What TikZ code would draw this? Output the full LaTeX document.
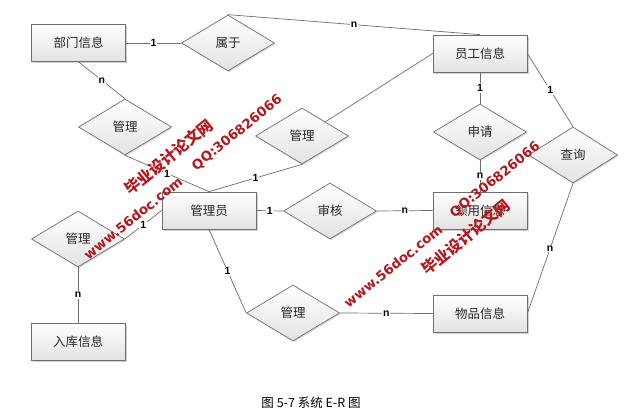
\documentclass[tikz,border=0pt]{standalone}
\usepackage{fontspec}
\setmainfont{Liberation Sans}
\newfontfamily\cjk{Noto Sans CJK SC}
\newfontfamily\wmlat{DejaVu Sans}
\usetikzlibrary{shapes.geometric,shadows}
\definecolor{wmred}{RGB}{178,24,30}
\definecolor{edgegray}{RGB}{110,110,110}
\definecolor{txt}{RGB}{40,40,40}
\begin{document}
\begin{tikzpicture}[x=1pt,y=-1pt,
  entity/.style={rectangle, draw=edgegray, line width=0.7pt, top color=white, bottom color=gray!22,
    minimum width=94pt, minimum height=37pt, inner sep=0pt, text=txt,
    font=\cjk\fontsize{12.5}{14}\selectfont,
    drop shadow={shadow xshift=1.6pt, shadow yshift=-1.6pt, fill=gray!35, opacity=1}},
  rel/.style={diamond, draw=edgegray, line width=0.7pt, top color=white, bottom color=gray!22,
    minimum width=93pt, minimum height=56pt, aspect=1.66, inner sep=0pt, text=txt,
    font=\cjk\fontsize{12.5}{14}\selectfont,
    drop shadow={shadow xshift=1.2pt, shadow yshift=-1.2pt, fill=gray!30, opacity=1}},
  conn/.style={draw=edgegray, line width=0.7pt},
  card/.style={fill=white, inner sep=1pt, text=black, font=\bfseries\fontsize{10.5}{11}\selectfont},
  wm/.style={text=wmred, rotate=39, inner sep=0pt},
  wmcn/.style={wm, font=\cjk\bfseries\fontsize{15.5}{15.5}\selectfont},
  wmen/.style={wm, font=\wmlat\bfseries\fontsize{13.3}{13.3}\selectfont}
]
\useasboundingbox[fill=white] (0,0) rectangle (639,419);

% entities and relationships
\node[entity] (bumen) at (78.5,43) {部门信息};
\node[rel] (shuyu) at (228,43) {属于};
\node[entity] (yuangong) at (480,53.5) {员工信息};
\node[rel] (gl1) at (125,127) {管理};
\node[rel] (gl2) at (302,136) {管理};
\node[rel] (shenqing) at (480,132) {申请};
\node[rel, minimum width=89pt] (chaxun) at (573,155) {查询};
\node[entity] (gly) at (209,210.5) {管理员};
\node[rel] (shenhe) at (330,211) {审核};
\node[entity] (lingyong) at (480,210.5) {领用信息};
\node[rel] (gl3) at (78,239) {管理};
\node[rel] (gl4) at (293,313) {管理};
\node[entity] (wupin) at (480,313.5) {物品信息};
\node[entity] (ruku) at (78,341.5) {入库信息};

% connectors
\draw[conn] (bumen.east) -- node[card] {1} (shuyu.west);
\draw[conn] (shuyu.north) -- node[card] {n} (yuangong.north);
\draw[conn] (bumen.south) -- node[card] {n} (gl1.north);
\draw[conn] (gl1.south) -- node[card] {1} (gly.north);
\draw[conn] (gl2.south) -- node[card] {1} (gly.north);
\draw[conn] (yuangong.west) -- (gl2.north east);
\draw[conn] (yuangong.south) -- node[card] {1} (shenqing.north);
\draw[conn] (shenqing.south) -- node[card] {n} (lingyong.north);
\draw[conn] (yuangong.east) -- node[card] {1} (chaxun.north);
\draw[conn] (gly.east) -- node[card] {1} (shenhe.west);
\draw[conn] (shenhe.east) -- node[card] {n} (lingyong.west);
\draw[conn] (gly.west) -- node[card] {1} (gl3.east);
\draw[conn] (gl3.south) -- node[card] {n} (ruku.north);
\draw[conn] (gly.south) -- node[card] {1} (gl4.west);
\draw[conn] (gl4.east) -- node[card] {n} (wupin.west);
\draw[conn] (wupin.east) -- node[card] {n} (chaxun.south);

% caption
\node[font=\cjk\fontsize{12.5}{13}\selectfont, text=black] (cap) at (311,403) {图 5-7 系统 E-R 图};

% watermarks
\node[wmcn] (wm1) at (169,157) {毕业设计论文网};
\node[wmen] (wm2) at (237,133) {QQ:306826066};
\node[wmen] (wm3) at (133,218) {www.56doc.com};
\node[wmen] (wm4) at (495,180) {QQ:306826066};
\node[wmcn] (wm5) at (466,237) {毕业设计论文网};
\node[wmen] (wm6) at (393,266) {www.56doc.com};
\end{tikzpicture}
\end{document}
